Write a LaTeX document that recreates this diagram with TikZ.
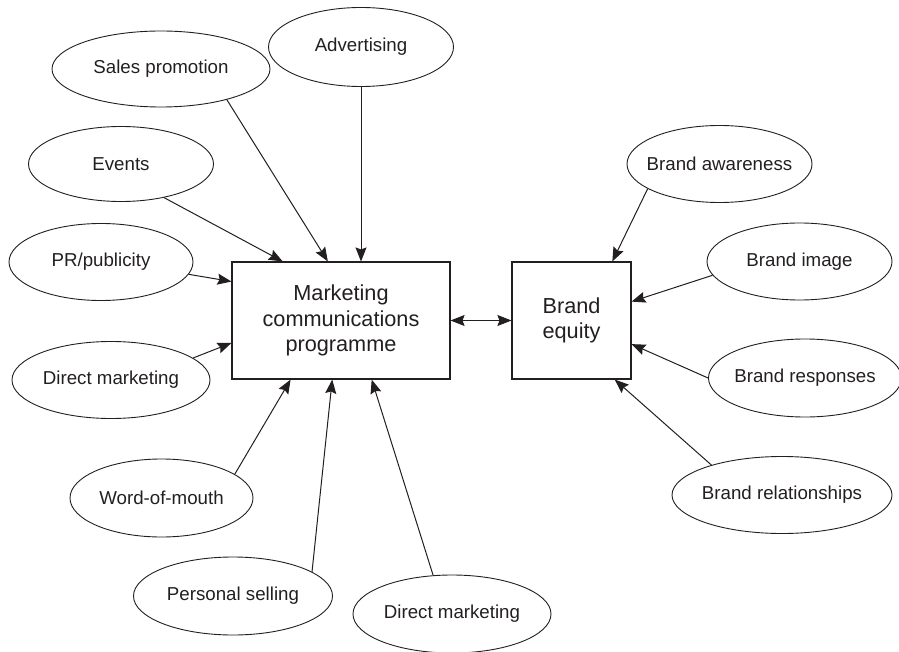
\documentclass[tikz,border=0pt]{standalone}
\usepackage{fontspec}
\setmainfont{Liberation Sans}
\usepackage{xcolor}
\definecolor{InkGray}{HTML}{231F20}
\usetikzlibrary{calc, shapes.geometric, arrows.meta}
\newcommand{\ovaltext}[1]{\makebox[0pt]{#1}}

\begin{document}
\begin{tikzpicture}[
    x=1pt, y=-1pt,
    >={Stealth[length=14pt, width=11pt, inset=2pt]},
    every node/.style={font=\fontsize{18.7}{25}\selectfont, text=InkGray},
    tool/.style={draw=InkGray, ellipse, line width=0.9pt, inner sep=0pt, minimum height=77pt},
    prog/.style={draw=InkGray, line width=1.1pt, minimum height=117pt, align=center,
                 font=\fontsize{21.7}{25.5}\selectfont},
    arr/.style={->, line width=1pt, color=InkGray}
  ]
    \useasboundingbox (0,0) rectangle (899,652);

    \node[prog, minimum width=218pt] (mcp) at (341,320.5) {Marketing\\communications\\programme};
    \node[prog, minimum width=119pt] (equity) at (571.5,320.5) {Brand\\equity};

    \node[tool, minimum width=185pt, minimum height=79pt] (adv) at (361,47) {\ovaltext{Advertising}};
    \node[tool, minimum width=218pt, minimum height=76pt] (sales) at (161,69) {\ovaltext{Sales promotion}};
    \node[tool, minimum width=185pt, minimum height=75pt] (events) at (121,164) {\ovaltext{Events}};
    \node[tool, minimum width=184pt] (pr) at (101,262) {\ovaltext{PR/publicity}};
    \node[tool, minimum width=198pt] (dmleft) at (111,380) {\ovaltext{Direct marketing}};
    \node[tool, minimum width=183pt, minimum height=78pt] (wom) at (161.5,498) {\ovaltext{Word-of-mouth}};
    \node[tool, minimum width=199pt, minimum height=78pt] (selling) at (233,596) {\ovaltext{Personal selling}};
    \node[tool, minimum width=198pt, minimum height=78pt] (dmbottom) at (452,614) {\ovaltext{Direct marketing}};

    \node[tool, minimum width=185pt] (awareness) at (719.5,164) {\ovaltext{Brand awareness}};
    \node[tool, minimum width=185pt] (image) at (799.5,261.5) {\ovaltext{Brand image}};
    \node[tool, minimum width=193pt, minimum height=78pt] (responses) at (805,378) {\ovaltext{Brand responses}};
    \node[tool, minimum width=220pt] (relations) at (782,495) {\ovaltext{Brand relationships}};

    % tools into the programme
    \draw[arr] (adv.south) -- (adv.south |- mcp.north);
    \draw[arr] (sales.-25) -- ($(mcp.north west)!0.44!(mcp.north east)$);
    \draw[arr] (events.-38) -- ($(mcp.north west)!0.234!(mcp.north east)$);
    \draw[arr] (pr.-8) -- ($(mcp.north west)!0.17!(mcp.south west)$);
    \draw[arr] (dmleft.15) -- ($(mcp.north west)!0.69!(mcp.south west)$);
    \draw[arr] (wom.18) -- ($(mcp.south west)!0.27!(mcp.south east)$);
    \draw[arr] (selling.17) -- ($(mcp.south west)!0.46!(mcp.south east)$);
    \draw[arr] (dmbottom.116) -- ($(mcp.south west)!0.64!(mcp.south east)$);

    \draw[arr, <->] (mcp) -- (equity);

    % dimensions of brand equity
    \draw[arr] (awareness.199) -- ($(equity.north west)!0.84!(equity.north east)$);
    \draw[arr] (image.189) -- ($(equity.north east)!0.34!(equity.south east)$);
    \draw[arr] (responses.west) -- ($(equity.north east)!0.70!(equity.south east)$);
    \draw[arr] (relations.157) -- ($(equity.south west)!0.86!(equity.south east)$);
  \end{tikzpicture}
\end{document}
